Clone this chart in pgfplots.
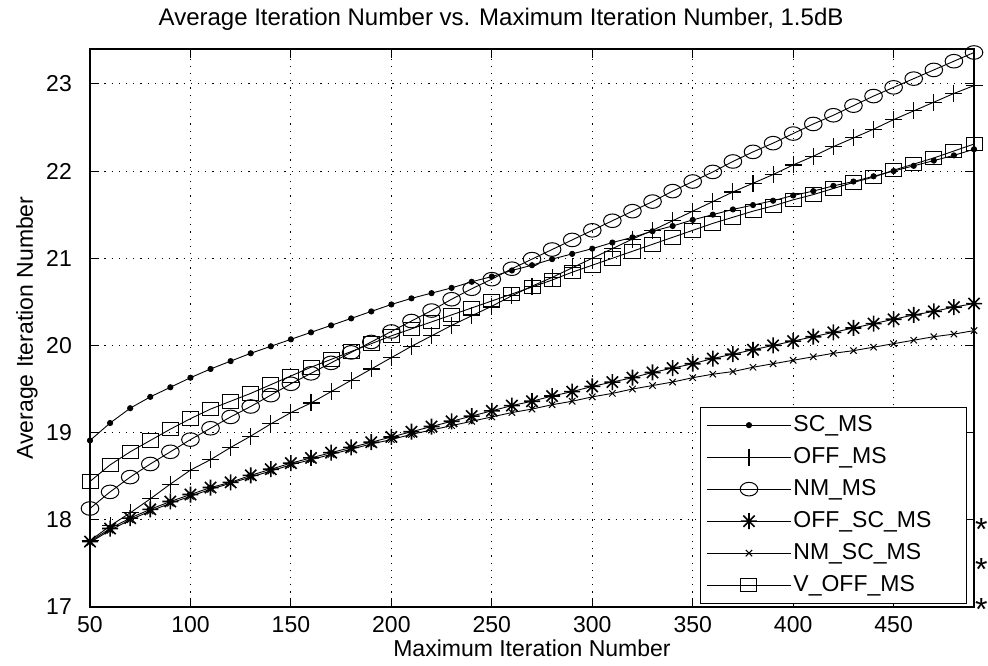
\documentclass[border=0pt]{standalone}
\usepackage{pgfplots}
\usepackage{pgfplotstable}
\pgfplotsset{compat=1.18}
\usepackage{fontspec}
\setmainfont{Liberation Sans}

\pgfdeclareplotmark{mstar}{%
  \pgfpathmoveto{\pgfqpoint{0pt}{\pgfplotmarksize}}\pgfpathlineto{\pgfqpoint{0pt}{-\pgfplotmarksize}}%
  \pgfpathmoveto{\pgfqpoint{\pgfplotmarksize}{0pt}}\pgfpathlineto{\pgfqpoint{-\pgfplotmarksize}{0pt}}%
  \pgfpathmoveto{\pgfqpoint{0.707\pgfplotmarksize}{0.707\pgfplotmarksize}}\pgfpathlineto{\pgfqpoint{-0.707\pgfplotmarksize}{-0.707\pgfplotmarksize}}%
  \pgfpathmoveto{\pgfqpoint{0.707\pgfplotmarksize}{-0.707\pgfplotmarksize}}\pgfpathlineto{\pgfqpoint{-0.707\pgfplotmarksize}{0.707\pgfplotmarksize}}%
  \pgfusepathqstroke}

\pgfplotstableread{
x   sc    off   nm    offsc nmsc  voff
50  18.91 17.76 18.13 17.75 17.74 18.44
60  19.11 17.93 18.32 17.90 17.88 18.63
70  19.28 18.08 18.49 18.02 18.00 18.78
80  19.41 18.24 18.64 18.12 18.10 18.91
90  19.52 18.41 18.78 18.21 18.19 19.04
100 19.63 18.57 18.92 18.29 18.27 19.16
110 19.73 18.69 19.05 18.37 18.35 19.27
120 19.82 18.83 19.18 18.43 18.42 19.36
130 19.91 18.96 19.30 18.51 18.49 19.45
140 19.99 19.10 19.43 18.58 18.56 19.55
150 20.07 19.23 19.56 18.65 18.63 19.65
160 20.15 19.34 19.68 18.71 18.69 19.75
170 20.23 19.47 19.80 18.77 18.75 19.84
180 20.31 19.60 19.92 18.83 18.81 19.93
190 20.39 19.73 20.04 18.89 18.87 20.02
200 20.47 19.86 20.16 18.95 18.92 20.11
210 20.54 19.99 20.28 19.01 18.98 20.19
220 20.60 20.11 20.40 19.07 19.03 20.27
230 20.66 20.23 20.53 19.13 19.08 20.35
240 20.73 20.34 20.65 19.19 19.13 20.43
250 20.79 20.45 20.76 19.25 19.18 20.51
260 20.86 20.57 20.88 19.31 19.23 20.59
270 20.92 20.68 20.99 19.36 19.27 20.67
280 20.99 20.78 21.10 19.42 19.32 20.75
290 21.05 20.89 21.21 19.47 19.36 20.84
300 21.11 21.00 21.32 19.53 19.41 20.92
310 21.18 21.11 21.43 19.58 19.45 21.00
320 21.24 21.22 21.54 19.63 19.50 21.08
330 21.31 21.32 21.65 19.69 19.54 21.16
340 21.37 21.43 21.77 19.74 19.58 21.24
350 21.44 21.54 21.88 19.79 19.63 21.32
360 21.50 21.65 21.99 19.85 19.67 21.40
370 21.56 21.76 22.11 19.90 19.70 21.47
380 21.61 21.86 22.22 19.95 19.75 21.54
390 21.66 21.96 22.32 20.00 19.79 21.60
400 21.72 22.07 22.43 20.05 19.83 21.67
410 21.77 22.17 22.54 20.10 19.87 21.73
420 21.83 22.28 22.64 20.15 19.91 21.80
430 21.88 22.38 22.75 20.20 19.94 21.87
440 21.94 22.48 22.86 20.25 19.98 21.93
450 22.00 22.59 22.96 20.30 20.02 22.01
460 22.06 22.69 23.06 20.35 20.06 22.08
470 22.12 22.79 23.16 20.39 20.10 22.15
480 22.18 22.89 23.26 20.44 20.13 22.23
490 22.25 22.98 23.36 20.48 20.17 22.31
}\datatable

\newcommand{\bigf}{\fontsize{23}{26}\selectfont}

\begin{document}
\begin{tikzpicture}
\useasboundingbox (0pt,0pt) rectangle (988pt,666pt);
\begin{axis}[
  at={(90pt,59pt)}, anchor=south west,
  width=884pt, height=558pt, scale only axis,
  xmin=50, xmax=490, ymin=17, ymax=23.4,
  xtick={50,100,...,450}, ytick={17,18,...,23},
  /pgf/number format/assume math mode=true,
  tick label style={font=\bigf},
  xticklabel style={anchor=base, yshift=-26pt},
  yticklabel style={anchor=east, inner sep=0pt, xshift=-18pt},
  tick align=inside, major tick length=9pt,
  axis line style={line width=1.4pt},
  every tick/.style={black, line width=1pt},
  grid=major,
  major grid style={black, line width=0.9pt, dash pattern=on 1.2pt off 6pt},
  title={Average Iteration Number vs. Maximum Iteration Number, 1.5dB},
  title style={font=\fontsize{24}{26}\selectfont, at={(axis description cs:0.465,1)}, anchor=base, yshift=17pt},
  xlabel={Maximum Iteration Number},
  xlabel style={font=\bigf, at={(axis description cs:0.5,0)}, anchor=base, yshift=-50pt},
  ylabel={Average Iteration Number},
  ylabel style={font=\bigf, at={(axis description cs:0,0.5)}, anchor=center, yshift=63pt},
  legend cell align=left,
  legend image code/.code={\draw[mark repeat=2,mark phase=2] plot coordinates {(0pt,0pt) (42pt,0pt) (84pt,0pt)};},
  legend style={font=\bigf, at={(axis description cs:0.992,0.006)}, anchor=south east,
    draw=black, line width=1pt, inner xsep=6pt, inner ysep=2pt,
    nodes={inner ysep=5pt, text height=17pt, text depth=5pt}},
  every axis plot/.append style={black, line width=0.9pt},
]
\addplot[mark=*, mark size=2.6pt] table[x=x, y=sc] {\datatable};
\addlegendentry{\makebox[165pt][l]{SC\_MS}}
\addplot[mark=+, mark size=8.5pt, mark options={line width=1.1pt}] table[x=x, y=off] {\datatable};
\addlegendentry{OFF\_MS}
\addplot[mark=o, mark size=8pt, mark options={line width=1pt, xscale=1.1, yscale=0.85}] table[x=x, y=nm] {\datatable};
\addlegendentry{NM\_MS}
\addplot[mark=mstar, mark size=8pt, mark options={line width=1.6pt}] table[x=x, y=offsc] {\datatable};
\addlegendentry{OFF\_SC\_MS}
\addplot[mark=x, mark size=4.5pt, mark options={line width=1pt}] table[x=x, y=nmsc] {\datatable};
\addlegendentry{NM\_SC\_MS}
\addplot[mark=square, mark size=8pt, mark options={line width=1pt, yscale=0.85}] table[x=x, y=voff] {\datatable};
\addlegendentry{V\_OFF\_MS}
\end{axis}
\node[font=\fontsize{32}{32}\selectfont, anchor=base west, inner sep=0pt] at (975pt,125pt) {*};
\node[font=\fontsize{32}{32}\selectfont, anchor=base west, inner sep=0pt] at (975pt,85pt) {*};
\node[font=\fontsize{32}{32}\selectfont, anchor=base west, inner sep=0pt] at (975pt,45pt) {*};
\end{tikzpicture}
\end{document}
